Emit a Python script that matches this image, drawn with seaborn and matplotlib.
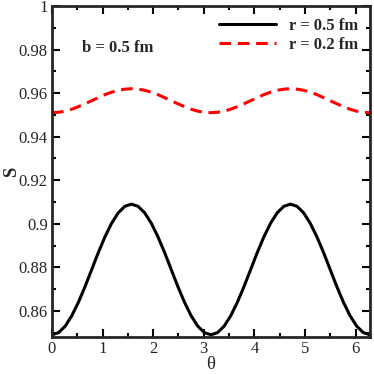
import numpy as np
import pandas as pd
import matplotlib
matplotlib.use("Agg")
import matplotlib.pyplot as plt
import seaborn as sns
from matplotlib.ticker import MultipleLocator

# theta grid (step pi/24) and curve values
theta = [0.0000, 0.1309, 0.2618, 0.3927, 0.5236, 0.6545, 0.7854, 0.9163, 1.0472,
         1.1781, 1.3090, 1.4399, 1.5708, 1.7017, 1.8326, 1.9635, 2.0944, 2.2253,
         2.3562, 2.4871, 2.6180, 2.7489, 2.8798, 3.0107, 3.1416, 3.2725, 3.4034,
         3.5343, 3.6652, 3.7961, 3.9270, 4.0579, 4.1888, 4.3197, 4.4506, 4.5815,
         4.7124, 4.8433, 4.9742, 5.1051, 5.2360, 5.3669, 5.4978, 5.6287, 5.7596,
         5.8905, 6.0214, 6.1523, 6.2832]
s_r05 = [0.8490, 0.8500, 0.8530, 0.8578, 0.8640, 0.8712, 0.8790, 0.8868, 0.8940,
         0.9002, 0.9050, 0.9080, 0.9090, 0.9080, 0.9050, 0.9002, 0.8940, 0.8868,
         0.8790, 0.8712, 0.8640, 0.8578, 0.8530, 0.8500, 0.8490, 0.8500, 0.8530,
         0.8578, 0.8640, 0.8712, 0.8790, 0.8868, 0.8940, 0.9002, 0.9050, 0.9080,
         0.9090, 0.9080, 0.9050, 0.9002, 0.8940, 0.8868, 0.8790, 0.8712, 0.8640,
         0.8578, 0.8530, 0.8500, 0.8490]
s_r02 = [0.9510, 0.9512, 0.9517, 0.9526, 0.9538, 0.9551, 0.9565, 0.9579, 0.9593,
         0.9604, 0.9613, 0.9618, 0.9620, 0.9618, 0.9613, 0.9604, 0.9593, 0.9579,
         0.9565, 0.9551, 0.9538, 0.9526, 0.9517, 0.9512, 0.9510, 0.9512, 0.9517,
         0.9526, 0.9538, 0.9551, 0.9565, 0.9579, 0.9593, 0.9604, 0.9613, 0.9618,
         0.9620, 0.9618, 0.9613, 0.9604, 0.9593, 0.9579, 0.9565, 0.9551, 0.9538,
         0.9526, 0.9517, 0.9512, 0.9510]
yticks = [0.86, 0.88, 0.9, 0.92, 0.94, 0.96, 0.98, 1.0]
ytick_labels = ["0.86", "0.88", "0.9", "0.92", "0.94", "0.96", "0.98", "1"]

df = pd.DataFrame({"theta": theta, "r05": s_r05, "r02": s_r02})

sns.set_style("ticks")
plt.rcParams["font.family"] = ["Liberation Serif", "DejaVu Serif"]

fig = plt.figure(figsize=(3.74, 3.74), dpi=100)
ax = fig.add_axes([0.139, 0.099, 0.850, 0.885])

sns.lineplot(data=df, x="theta", y="r05", ax=ax, color="black", lw=2.2,
             label="r = 0.5 fm")
sns.lineplot(data=df, x="theta", y="r02", ax=ax, color="red", lw=2.2,
             label="r = 0.2 fm")
ax.lines[1].set_dashes((3.8, 2.2))

ax.set_xlim(0, 6.2832)
ax.set_ylim(0.848, 1.0)
ax.xaxis.set_major_locator(MultipleLocator(1))
ax.xaxis.set_minor_locator(MultipleLocator(0.5))
ax.yaxis.set_minor_locator(MultipleLocator(0.01))
ax.set_yticks(yticks)
ax.set_yticklabels(ytick_labels)
ax.tick_params(which="both", direction="in", top=True, right=True,
               labelsize=12, width=1.5, color="black", pad=3)
ax.tick_params(which="major", length=6)
ax.tick_params(which="minor", length=3)
for sp in ax.spines.values():
    sp.set_linewidth(2)
    sp.set_visible(True)

ax.set_xlabel("θ", fontsize=13.5, labelpad=-1)
ax.set_ylabel("S", fontsize=13.5, fontweight="bold", labelpad=-1)

ax.text(0.094, 0.86, "b = 0.5 fm", transform=ax.transAxes, fontsize=12,
        fontweight="bold")

leg = ax.legend(loc="upper right", frameon=False, handlelength=3.4,
                handletextpad=0.8, prop={"weight": "bold", "size": 12},
                borderaxespad=0.3, labelspacing=0.2)

fig.savefig("out.png", dpi=100)
